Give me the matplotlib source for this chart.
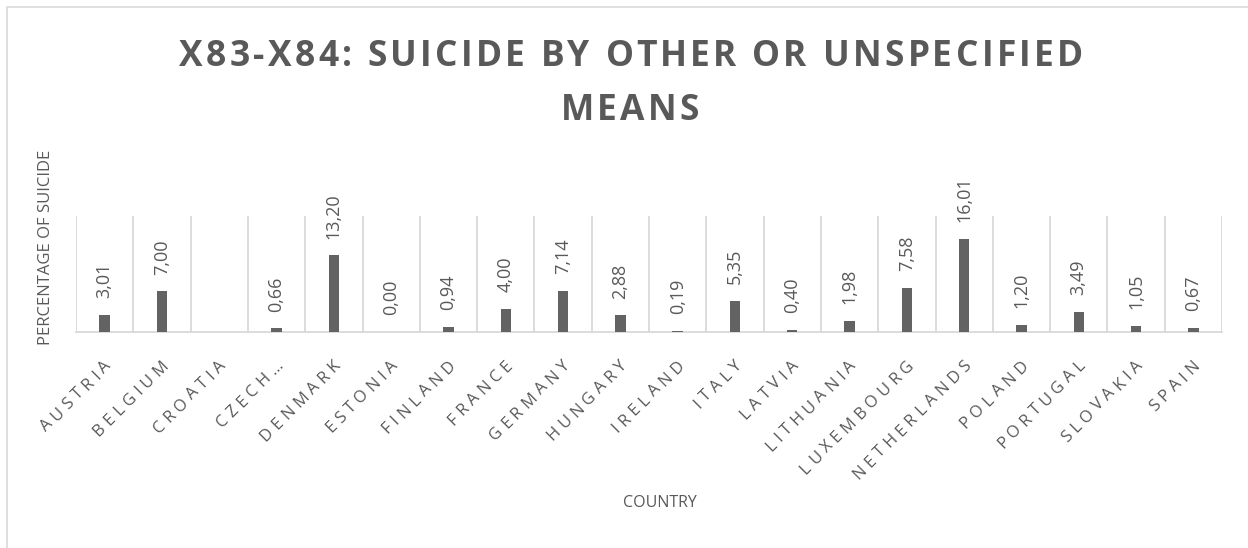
import matplotlib.pyplot as plt
import numpy as np
from matplotlib.font_manager import FontProperties
from matplotlib.transforms import IdentityTransform

countries = ["AUSTRIA", "BELGIUM", "CROATIA", "CZECH…", "DENMARK", "ESTONIA",
             "FINLAND", "FRANCE", "GERMANY", "HUNGARY", "IRELAND", "ITALY",
             "LATVIA", "LITHUANIA", "LUXEMBOURG", "NETHERLANDS", "POLAND",
             "PORTUGAL", "SLOVAKIA", "SPAIN"]
percentages = [3.01, 7.00, np.nan, 0.66, 13.20, 0.00, 0.94, 4.00, 7.14, 2.88,
               0.19, 5.35, 0.40, 1.98, 7.58, 16.01, 1.20, 3.49, 1.05, 0.67]
title_lines = ["X83-X84: SUICIDE BY OTHER OR UNSPECIFIED", "MEANS"]

grey = "#595959"
bar_color = "#636363"
grid_color = "#d9d9d9"
fonts = ["Open Sans", "DejaVu Sans"]

W, H = 1248, 548
fig = plt.figure(figsize=(W / 100, H / 100), dpi=100)
renderer = fig.canvas.get_renderer()


def text_w(s, fp):
    return renderer.get_text_width_height_descent(s, fp, ismath=False)[0]


def tracked_text(s, x, y, fp, track, angle=0.0, anchor="center"):
    """Draw s letter by letter with extra spacing (pixels, image coords).
    (x, y) is the baseline point at the centre or right end of the string."""
    adv = [text_w(s[:i] + "X", fp) - text_w("X", fp) for i in range(len(s) + 1)]
    total = adv[-1] + track * (len(s) - 1)
    a = np.radians(angle)
    u = np.array([np.cos(a), np.sin(a)])
    p0 = np.array([x, H - y], float)
    p0 -= u * (total / 2 if anchor == "center" else total)
    for i, ch in enumerate(s):
        px, py = p0 + u * (adv[i] + track * i)
        fig.text(px, py, ch, transform=IdentityTransform(), rotation=angle,
                 rotation_mode="anchor", ha="left", va="baseline",
                 fontproperties=fp, color=grey)


ax = fig.add_axes([76 / W, 1 - 332 / H, 1146 / W, 116 / H])

x = np.arange(len(countries))
ax.bar(x, percentages, width=0.18, color=bar_color, zorder=3)

# value labels above each bar, written with a decimal comma
for xi, v in zip(x, percentages):
    if np.isnan(v):
        continue
    ax.annotate(f"{v:.2f}".replace(".", ","), (xi, v), xytext=(0, 12),
                textcoords="offset points", rotation=90, ha="center",
                va="bottom", fontsize=13, color=grey, family=fonts)

ax.set_xlim(-0.5, len(countries) - 0.5)
ax.set_ylim(0, 20)
ax.set_yticks([])
ax.set_xticks([])

# vertical separators between categories
for b in np.arange(-0.5, len(countries) + 0.5, 1):
    ax.axvline(b, color=grid_color, lw=1.3, zorder=1)

for s in ["top", "right", "left"]:
    ax.spines[s].set_visible(False)
ax.spines["bottom"].set_color(grid_color)
ax.spines["bottom"].set_linewidth(1.3)

# category names, slanted and letter-spaced
tick_fp = FontProperties(family=fonts, size=12)
cap = renderer.get_text_width_height_descent("H", tick_fp, ismath=False)[1]
for xi, name in zip(x, countries):
    bx, by = ax.transData.transform((xi, 0))
    ex, ey = bx + 3, H - by + 30
    # shift from the centre line down to the baseline
    ex += cap / 2 * np.sin(np.radians(45))
    ey += cap / 2 * np.cos(np.radians(45))
    tracked_text(name, ex, ey, tick_fp, 4.5, angle=45, anchor="right")

fig.text(0.037, 1 - 247 / H, "PERCENTAGE OF SUICIDE", rotation=90, ha="center",
         va="center", fontsize=12, color=grey, family=fonts)
fig.text(660 / W, 1 - 503 / H, "COUNTRY", ha="center", va="center",
         fontsize=11.5, color=grey, family=fonts)

title_fp = FontProperties(family=fonts, size=25.5, weight="bold")
tracked_text(title_lines[0], 631, 66, title_fp, 3.3)
tracked_text(title_lines[1], 630, 119.5, title_fp, 3.3)

# thin chart border
fig.add_artist(plt.Rectangle((0.006, -0.01), 1.0, 0.998, transform=fig.transFigure,
                             fill=False, edgecolor=grid_color, lw=1.2))

fig.savefig("out.png", dpi=100)
